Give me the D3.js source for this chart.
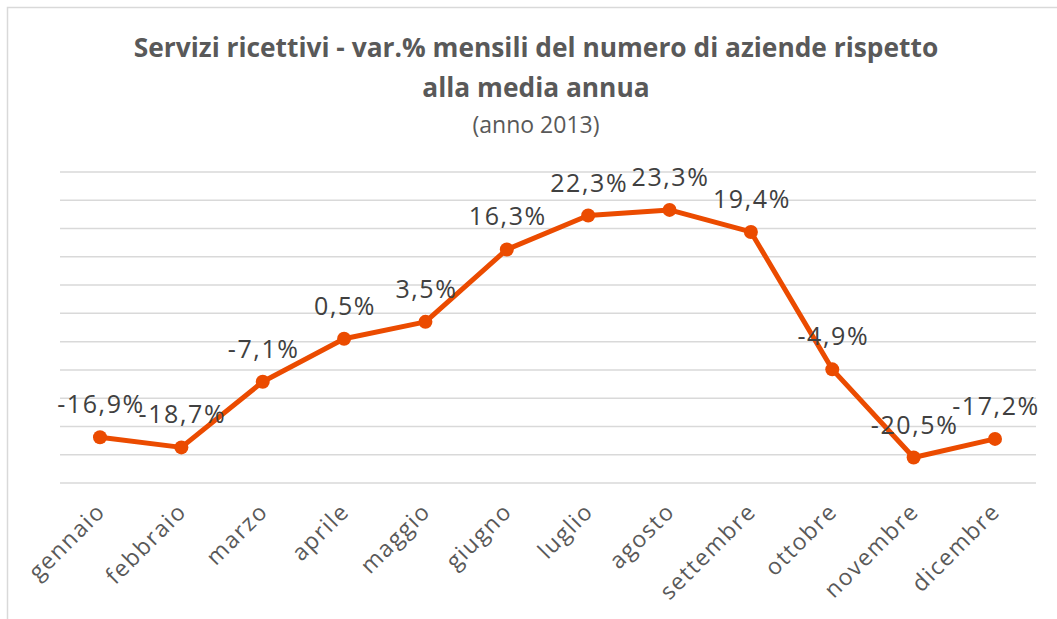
<!DOCTYPE html>
<html>
<head>
<meta charset="utf-8">
<script src="https://cdn.jsdelivr.net/npm/d3@7"></script>
<style>
  body { margin: 0; background: #fff; }
  svg { display: block; }
</style>
</head>
<body>
<div id="chart"></div>
<script>
const w = 1057
const h = 619

// data
const months = ['gennaio', 'febbraio', 'marzo', 'aprile', 'maggio', 'giugno', 'luglio', 'agosto', 'settembre', 'ottobre', 'novembre', 'dicembre']
const values = [-16.9, -18.7, -7.1, 0.5, 3.5, 16.3, 22.3, 23.3, 19.4, -4.9, -20.5, -17.2]
const gridTicks = [-25, -20, -15, -10, -5, 0, 5, 10, 15, 20, 25, 30]

const svg = d3.select('#chart')
    .append('svg')
    .attr('width', w)
    .attr('height', h)

// chart border
svg.append('rect')
    .attr('x', 7.5)
    .attr('y', 7.5)
    .attr('width', w + 20)
    .attr('height', h + 20)
    .attr('fill', 'none')
    .attr('stroke', '#d9d9d9')
    .attr('stroke-width', 1.5)

const xScale = d3.scalePoint()
    .domain(months)
    .range([100, 995])

const yScale = d3.scaleLinear()
    .domain([-25, 30])
    .range([483, 172])

// gridlines
svg.append('g')
    .selectAll('line')
    .data(gridTicks)
    .enter()
    .append('line')
    .attr('x1', 60)
    .attr('x2', 1036)
    .attr('y1', d => yScale(d))
    .attr('y2', d => yScale(d))
    .attr('stroke', '#d9d9d9')
    .attr('stroke-width', 1.5)

// title
const title = svg.append('g')
    .attr('font-family', '"Open Sans", sans-serif')
    .attr('fill', '#595959')
    .attr('text-anchor', 'middle')

const t1 = title.append('text')
    .attr('x', 536)
    .attr('y', 57)
    .attr('font-weight', 'bold')
    .attr('font-size', 24)
    .text('Servizi ricettivi - var.% mensili del numero di aziende rispetto')

// fit the first line to the width seen in the reference
const fs = 24 * 805 / t1.node().getComputedTextLength()
t1.attr('font-size', fs)

title.append('text')
    .attr('x', 536)
    .attr('y', 97)
    .attr('font-weight', 'bold')
    .attr('font-size', fs)
    .text('alla media annua')

title.append('text')
    .attr('x', 536)
    .attr('y', 133)
    .attr('font-size', 23)
    .text('(anno 2013)')

// x axis labels
const xAxis = d3.axisBottom(xScale).tickSize(0).tickPadding(0)

svg.append('g')
    .attr('transform', 'translate(0, 500)')
    .call(xAxis)
    .call(g => g.select('.domain').remove())
    .selectAll('text')
    .attr('font-family', '"Open Sans", sans-serif')
    .attr('font-size', 23)
    .attr('letter-spacing', 1.5)
    .attr('fill', '#595959')
    .attr('text-anchor', 'end')
    .attr('dy', 0)
    .attr('transform', 'translate(6, 13) rotate(-45)')

// line
const line = d3.line()
    .x((d, i) => xScale(months[i]))
    .y(d => yScale(d))

svg.append('path')
    .datum(values)
    .attr('d', line)
    .attr('fill', 'none')
    .attr('stroke', '#eb4b00')
    .attr('stroke-width', 5)
    .attr('stroke-linejoin', 'round')

svg.append('g')
    .selectAll('circle')
    .data(values)
    .enter()
    .append('circle')
    .attr('cx', (d, i) => xScale(months[i]))
    .attr('cy', d => yScale(d))
    .attr('r', 7)
    .attr('fill', '#eb4b00')

// data labels
const fmt = d => d3.format('.1f')(d).replace('.', ',').replace('−', '-') + '%'

svg.append('g')
    .selectAll('text')
    .data(values)
    .enter()
    .append('text')
    .attr('x', (d, i) => xScale(months[i]) + 1)
    .attr('y', d => yScale(d) - 24)
    .attr('text-anchor', 'middle')
    .attr('font-family', '"Open Sans", sans-serif')
    .attr('font-size', 25)
    .attr('letter-spacing', 1.6)
    .attr('fill', '#404040')
    .text(fmt)
</script>
</body>
</html>
